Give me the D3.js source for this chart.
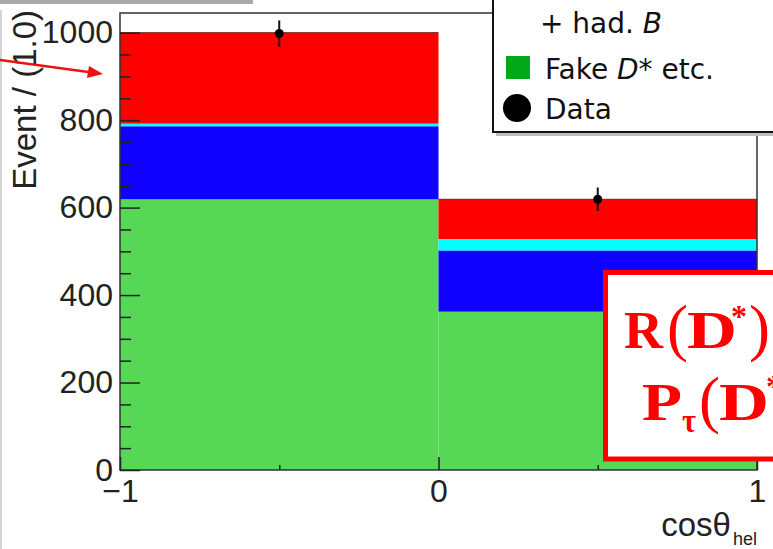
<!DOCTYPE html>
<html>
<head>
<meta charset="utf-8">
<script src="https://cdn.jsdelivr.net/npm/d3@7"></script>
<style>
  body { margin: 0; background: #fff; }
  svg { display: block; }
</style>
</head>
<body>
<div id="chart"></div>
<script>
// bins in cos(theta_hel)
const binLow = [-1, 0];
const binHigh = [0, 1];
// stacked components, bottom to top
const fakeDstar = [619, 362];
const blueComp = [167, 140];
const cyanComp = [6, 26];
const redComp = [208, 91];
// data points
const dataCenter = [-0.5, 0.5];
const dataValue = [998, 619];
const dataError = [30, 27];
// ticks
const yMajor = [0, 200, 400, 600, 800, 1000];
const xMajor = [-1, 0, 1];
const xMinor = [-0.5, 0.5];

const width = 773, height = 549;
const svg = d3.select("#chart").append("svg")
  .attr("width", width).attr("height", height);

const x = d3.scaleLinear().domain([-1, 1]).range([120, 757]);
const y = d3.scaleLinear().domain([0, 1045]).range([470, 13]);

// left-over bits of the neighbouring panels
svg.append("rect").attr("x", 0).attr("y", 0).attr("width", 253).attr("height", 4).attr("fill", "#a8a8a8");
svg.append("line").attr("x1", 1).attr("x2", 1).attr("y1", 10).attr("y2", 549)
  .attr("stroke", "#c4c4c4").attr("stroke-width", 1.5);

// stack the components
const rows = binLow.map((lo, i) => ({
  lo: lo, hi: binHigh[i],
  green: fakeDstar[i], blue: blueComp[i], cyan: cyanComp[i], red: redComp[i]
}));
const keys = ["green", "blue", "cyan", "red"];
const colors = { green: "#56d856", blue: "#1000ff", cyan: "#00ffff", red: "#ff0000" };
const series = d3.stack().keys(keys)(rows);

svg.append("g").selectAll("g")
  .data(series)
  .enter().append("g")
  .attr("fill", d => colors[d.key])
  .selectAll("rect")
  .data(d => d)
  .enter().append("rect")
  .attr("x", d => x(d.data.lo))
  .attr("width", d => x(d.data.hi) - x(d.data.lo))
  .attr("y", d => y(d[1]))
  .attr("height", d => y(d[0]) - y(d[1]));

// thin outline on top of each stack
svg.append("g").selectAll("line")
  .data(series[series.length - 1])
  .enter().append("line")
  .attr("x1", d => x(d.data.lo)).attr("x2", d => x(d.data.hi))
  .attr("y1", d => y(d[1])).attr("y2", d => y(d[1]))
  .attr("stroke", "#7a2020").attr("stroke-width", 1);

// frame
svg.append("rect")
  .attr("x", x(-1)).attr("y", y(1045))
  .attr("width", x(1) - x(-1)).attr("height", y(0) - y(1045))
  .attr("fill", "none").attr("stroke", "#333").attr("stroke-width", 1.5);

// y axis
svg.append("g").attr("transform", `translate(${x(-1)},0)`)
  .call(d3.axisLeft(y).tickValues(yMajor).tickSize(-20).tickPadding(7).tickFormat(d3.format("d")));
svg.append("g").attr("transform", `translate(${x(-1)},0)`)
  .call(d3.axisLeft(y).tickValues(d3.range(0, 1045, 50).filter(v => v % 200 !== 0)).tickSize(-11).tickFormat(""));

// x axis
svg.append("g").attr("transform", `translate(0,${y(0)})`)
  .call(d3.axisBottom(x).tickValues(xMajor).tickSize(-13).tickPadding(9).tickFormat(d3.format("d")));
svg.append("g").attr("transform", `translate(0,${y(0)})`)
  .call(d3.axisBottom(x).tickValues(xMinor).tickSize(-5).tickFormat(""));

svg.selectAll(".domain").remove();
svg.selectAll(".tick line").attr("stroke", "#222").attr("stroke-width", 1.5);
svg.selectAll(".tick text")
  .attr("font-family", "Liberation Sans, Arial, sans-serif")
  .attr("font-size", 32).attr("fill", "#222");

// axis titles
svg.append("text")
  .attr("transform", "translate(36,10) rotate(-90)")
  .attr("text-anchor", "end")
  .attr("font-family", "Liberation Sans, Arial, sans-serif")
  .attr("font-size", 33).attr("fill", "#222")
  .text("Event / (1.0)");

const xt = svg.append("text")
  .attr("x", 757).attr("y", 536)
  .attr("text-anchor", "end")
  .attr("font-family", "Liberation Sans, Arial, sans-serif")
  .attr("font-size", 33).attr("fill", "#222");
xt.append("tspan").text("cosθ");
xt.append("tspan").attr("font-size", 18).attr("dx", 2).attr("dy", 9).text("hel");

// data points with error bars
const pts = dataCenter.map((c, i) => ({ c: c, v: dataValue[i], e: dataError[i] }));
svg.append("g").selectAll("line")
  .data(pts).enter().append("line")
  .attr("x1", d => x(d.c)).attr("x2", d => x(d.c))
  .attr("y1", d => y(d.v - d.e)).attr("y2", d => y(d.v + d.e))
  .attr("stroke", "#111").attr("stroke-width", 2);
svg.append("g").selectAll("circle")
  .data(pts).enter().append("circle")
  .attr("cx", d => x(d.c)).attr("cy", d => y(d.v)).attr("r", 4.5)
  .attr("fill", "#000");

// red arrow on the left
svg.append("line").attr("x1", 0).attr("y1", 60).attr("x2", 92).attr("y2", 72.5)
  .attr("stroke", "#ee1111").attr("stroke-width", 2.5);
svg.append("path").attr("d", "M103,74 L89,66 L87,78 Z").attr("fill", "#ee1111");

// legend box (clipped at the top and right)
const leg = svg.append("g");
leg.append("rect").attr("x", 496).attr("y", -10).attr("width", 300).attr("height", 146)
  .attr("fill", "#bdbdbd");
leg.append("rect").attr("x", 493).attr("y", -10).attr("width", 300).attr("height", 142)
  .attr("fill", "#fff").attr("stroke", "#111").attr("stroke-width", 2);
const legFont = "DejaVu Sans, Verdana, sans-serif";
const l1 = leg.append("text").attr("x", 540).attr("y", 33)
  .attr("font-family", legFont).attr("font-size", 28).attr("fill", "#111");
l1.append("tspan").text("+ had. ");
l1.append("tspan").attr("font-style", "italic").text("B");
leg.append("rect").attr("x", 506).attr("y", 56).attr("width", 24).attr("height", 23).attr("fill", "#00a818");
const l2 = leg.append("text").attr("x", 545).attr("y", 79)
  .attr("font-family", legFont).attr("font-size", 28).attr("fill", "#111");
l2.append("tspan").text("Fake ");
l2.append("tspan").attr("font-style", "italic").text("D");
l2.append("tspan").text("* etc.");
leg.append("circle").attr("cx", 517).attr("cy", 108).attr("r", 14).attr("fill", "#000");
leg.append("text").attr("x", 545).attr("y", 119)
  .attr("font-family", legFont).attr("font-size", 28).attr("fill", "#111").text("Data");

// red annotation box
const rb = svg.append("g");
rb.append("rect").attr("x", 605.5).attr("y", 272.5).attr("width", 200).attr("height", 186.5)
  .attr("fill", "#fff").attr("stroke", "#ff0000").attr("stroke-width", 5);
const serif = "Liberation Serif, Times New Roman, serif";
function rtext(tx, ty, size, str, weight, len) {
  const t = rb.append("text").attr("x", tx).attr("y", ty)
    .attr("font-family", serif).attr("font-size", size)
    .attr("font-weight", weight).attr("fill", "#ff0000").text(str);
  if (len) t.attr("textLength", len).attr("lengthAdjust", "spacingAndGlyphs");
}
rtext(624, 348, 53, "R", "bold", 39);
rtext(667, 349, 63, "(", "normal");
rtext(687, 348, 53, "D", "bold", 50);
rtext(731, 327, 32, "*", "bold");
rtext(749, 349, 63, ")", "normal");
rtext(642, 420, 53, "P", "bold", 40);
rtext(682, 432, 34, "τ", "bold", 14);
rtext(699, 421, 63, "(", "normal");
rtext(719, 420, 53, "D", "bold", 50);
rtext(766, 397, 32, "*", "bold");
</script>
</body>
</html>
